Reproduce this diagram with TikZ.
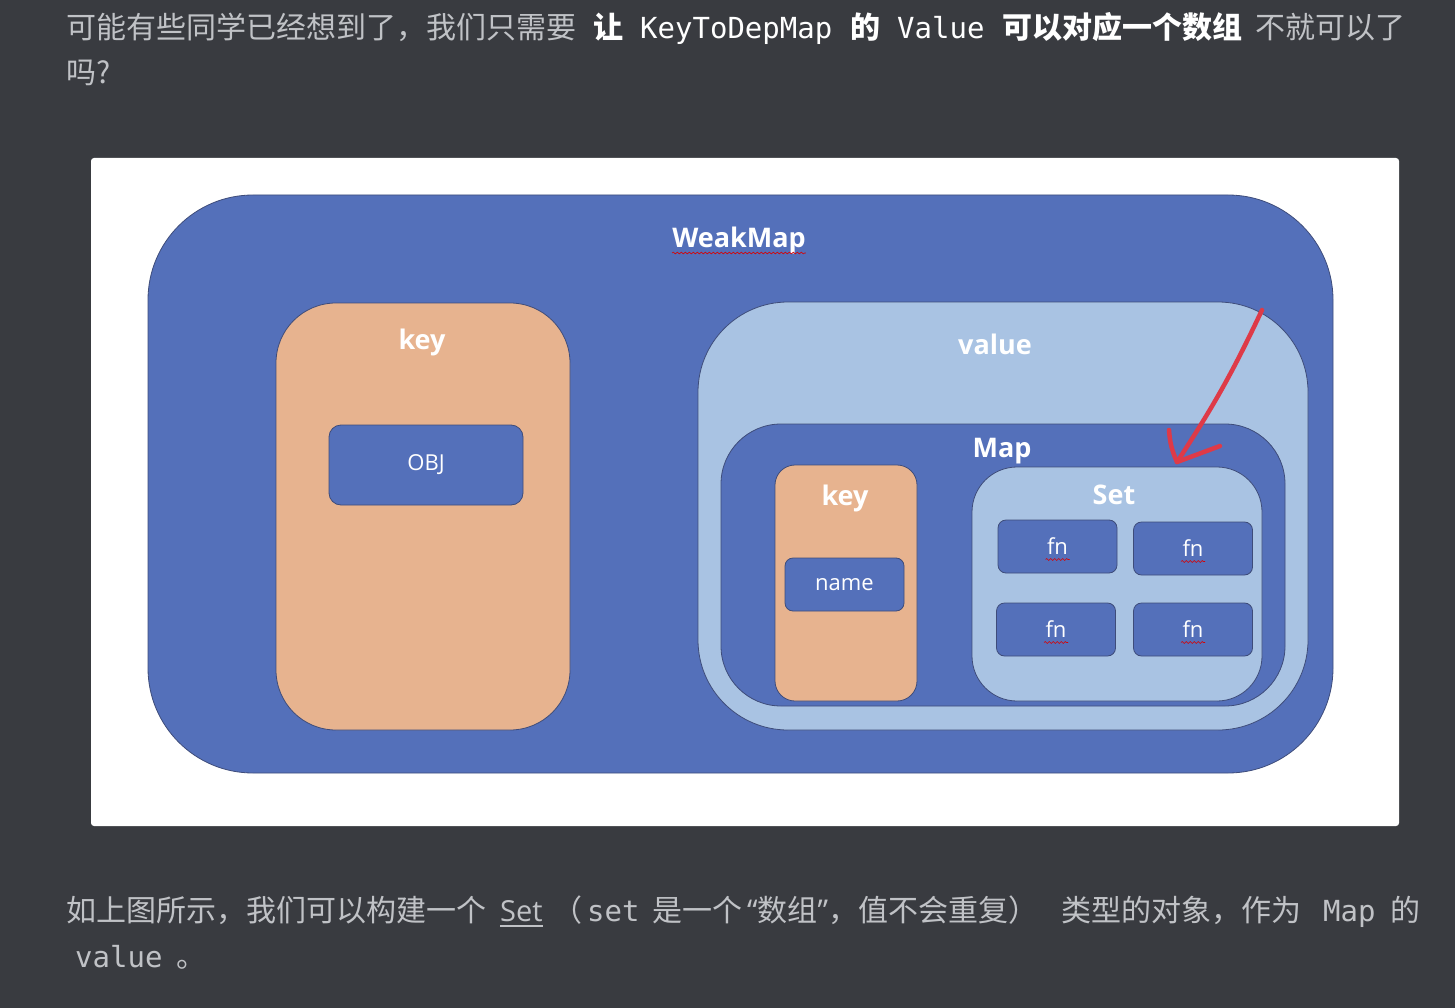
\documentclass[tikz,border=0pt]{standalone}
\usepackage{fontspec}
\usepackage{xcolor}
\usepackage{tikz}
\usetikzlibrary{decorations.pathmorphing}
\setmainfont{Open Sans}
\setmonofont{DejaVu Sans Mono}
\newfontfamily\cjk{Noto Sans CJK SC}
\definecolor{pagebg}{RGB}{57,59,64}
\definecolor{bodytext}{RGB}{192,194,198}
\definecolor{wmblue}{RGB}{84,112,186}
\definecolor{wmorange}{RGB}{231,179,143}
\definecolor{wmlight}{RGB}{169,195,227}
\definecolor{wmedge}{RGB}{62,76,122}
\definecolor{inkred}{RGB}{222,58,72}

\begin{document}
\begin{tikzpicture}[x=1pt,y=-1pt]
    \def\fs{\fontsize{30}{35}\selectfont}
    \def\ms{\fontsize{29}{34}\selectfont}
    \tikzstyle{para}=[anchor=base west, inner sep=0pt, text=bodytext, font=\cjk\fs]
    \tikzstyle{strong}=[para, text=white, font=\cjk\bfseries\fs]
    \tikzstyle{code}=[para, font=\ttfamily\ms]
    \tikzstyle{latin}=[para, font=\ms]
    \tikzstyle{box}=[draw=wmedge, line width=0.8pt, inner sep=0pt]
    \tikzstyle{bluebox}=[box, fill=wmblue]
    \tikzstyle{orangebox}=[box, fill=wmorange]
    \tikzstyle{lightbox}=[box, fill=wmlight]
    \tikzstyle{title}=[inner sep=0pt, text=white, font=\bfseries\fontsize{27}{31}\selectfont]
    \tikzstyle{item}=[text=white, font=\fontsize{22}{26}\selectfont]
    \tikzstyle{squiggle}=[draw=red!85!black, line width=0.6pt, decorate,
        decoration={snake, amplitude=0.9pt, segment length=4pt}]
    \tikzstyle{ink}=[draw=inkred, line width=4.5pt, line cap=round, line join=round]

    % page
    \useasboundingbox (0,0) rectangle (1455,1008);
    \fill[pagebg] (0,0) rectangle (1455,1008);

    % text above the figure
    \node[para]   (t1) at (66,39) {可能有些同学已经想到了，我们只需要};
    \node[strong] (t2) at (593,39) {让};
    \node[code, text=white] (t3) at (640,39) {KeyToDepMap};
    \node[strong] (t4) at (850,39) {的};
    \node[code, text=white] (t5) at (897,39) {Value};
    \node[strong] (t6) at (1002,39) {可以对应一个数组};
    \node[para]   (t7) at (1255,39) {不就可以了};
    \node[para]   (t8) at (66,84) {吗?};

    % white card
    \node[fill=white, rounded corners=3pt, inner sep=0pt,
          minimum width=1308pt, minimum height=668pt] (card) at (745,492) {};

    % WeakMap
    \node[bluebox, rounded corners=105pt, minimum width=1185pt, minimum height=578pt] (weakmap) at (740.5,484) {};
    \node[title] (weakmapTitle) at (739,240) {WeakMap};

    % key side
    \node[orangebox, rounded corners=60pt, minimum width=294pt, minimum height=427pt] (key) at (423,516.5) {};
    \node[title] (keyTitle) at (422,342) {key};
    \node[bluebox, item, rounded corners=12pt, minimum width=194pt, minimum height=80pt] (obj) at (426,465) {OBJ};

    % value side
    \node[lightbox, rounded corners=90pt, minimum width=610pt, minimum height=428pt] (value) at (1003,516) {};
    \node[title] (valueTitle) at (995,344) {value};
    \node[bluebox, rounded corners=60pt, minimum width=564pt, minimum height=282pt] (map) at (1003,565) {};
    \node[title] (mapTitle) at (1002,451) {Map};

    \node[orangebox, rounded corners=20pt, minimum width=142pt, minimum height=236pt] (mapKey) at (846,583) {};
    \node[title] (mapKeyTitle) at (845,498) {key};
    \node[bluebox, item, rounded corners=8pt, minimum width=119pt, minimum height=53pt] (name) at (844.5,584.5) {name};

    \node[lightbox, rounded corners=45pt, minimum width=290pt, minimum height=234pt] (set) at (1117,584) {};
    \node[title] (setTitle) at (1114,495) {Set};
    \foreach \n/\x/\y in {1/1057.5/546.5, 2/1193/548.5, 3/1056/629.5, 4/1193/629.5}{
        \node[bluebox, item, rounded corners=8pt, minimum width=119pt, minimum height=53pt] (fn\n) at (\x,\y) {fn};
        \draw[squiggle] ([shift={(-12pt,-13pt)}]fn\n.center) -- ([shift={(12pt,-13pt)}]fn\n.center);
    }
    \draw[squiggle] ([yshift=-6pt]weakmapTitle.base west) -- ([yshift=-6pt]weakmapTitle.base east);

    % hand drawn arrow
    \coordinate (inkTail) at (1262,310);
    \coordinate (inkTip) at (1177,462);
    \coordinate (inkBarbL) at (1169,430);
    \coordinate (inkBarbR) at (1220,446);
    \draw[ink] (inkTail) to[bend left=4] (inkTip);
    \draw[ink] (inkBarbL) to[bend right=10] (inkTip) -- (inkBarbR);

    % text below the figure
    \node[para]  (b1) at (66,921) {如上图所示，我们可以构建一个};
    \node[latin] (b2) at (500,921) {Set};
    \draw[bodytext, line width=1.5pt] ([yshift=-5pt]b2.base west) -- ([yshift=-5pt]b2.base east);
    \node[para]  (b3) at (552,921) {（};
    \node[code]  (b4) at (587,921) {set};
    \node[para]  (b5) at (652,921) {是一个\,{\rmfamily “}数组{\rmfamily ”}，值不会重复）};
    \node[para]  (b6) at (1061,921) {类型的对象，作为};
    \node[code]  (b7) at (1323,921) {Map};
    \node[para]  (b8) at (1390,921) {的};
    \node[code]  (b9) at (75,967) {value};
    \node[para]  (b10) at (176,967) {。};
\end{tikzpicture}
\end{document}
